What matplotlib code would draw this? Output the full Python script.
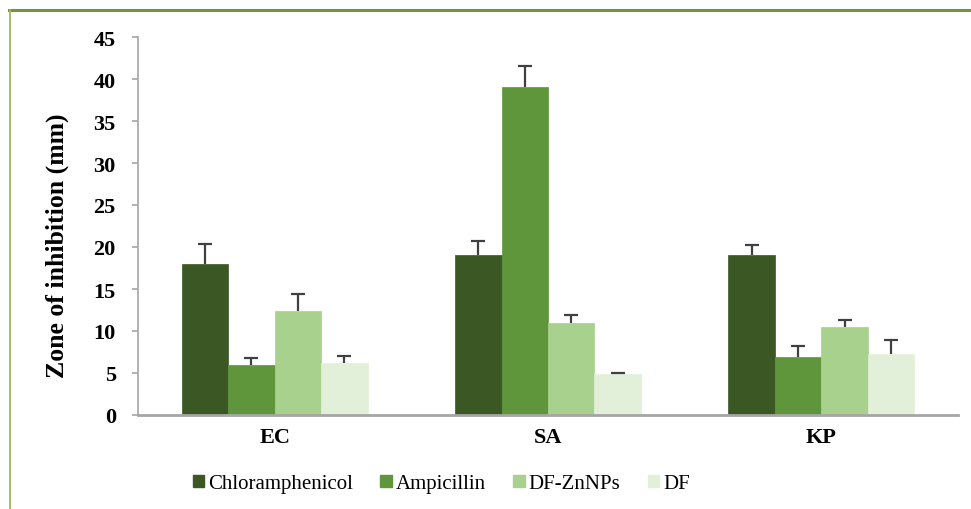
import matplotlib
matplotlib.use("Agg")
import matplotlib.pyplot as plt
import numpy as np
from matplotlib.lines import Line2D
from matplotlib.patches import Patch

plt.rcParams['font.family'] = ['Liberation Serif', 'DejaVu Serif']

categories = ["EC", "SA", "KP"]
series = ["Chloramphenicol", "Ampicillin", "DF-ZnNPs", "DF"]
values = {
    "Chloramphenicol": [18.0, 19.0, 19.0],
    "Ampicillin": [6.0, 39.0, 6.9],
    "DF-ZnNPs": [12.4, 11.0, 10.5],
    "DF": [6.2, 4.9, 7.3],
}
errors = {
    "Chloramphenicol": [2.3, 1.7, 1.2],
    "Ampicillin": [0.75, 2.6, 1.35],
    "DF-ZnNPs": [1.95, 0.95, 0.85],
    "DF": [0.8, 0.15, 1.6],
}
colors = ["#3A5724", "#5F963B", "#A9D18E", "#E2EFD9"]
y_ticks = [0, 5, 10, 15, 20, 25, 30, 35, 40, 45]

W, H = 971, 510
fig = plt.figure(figsize=(W / 100, H / 100), dpi=100)
ax = fig.add_axes([138 / W, (H - 416) / H, 820 / W, (416 - 38) / H])

x = np.arange(len(categories))
bw = 0.17
for i, (name, col) in enumerate(zip(series, colors)):
    pos = x + (i - 1.5) * bw
    vals = values[name]
    errs = errors[name]
    ax.bar(pos, vals, width=bw, color=col, edgecolor=col, linewidth=0.5, zorder=2)
    eb = ax.errorbar(pos, vals, yerr=[np.zeros(len(errs)), errs], fmt='none',
                     ecolor="#404040", elinewidth=1.6, capsize=4.7, capthick=1.6, zorder=3)
    # keep only the upper cap
    eb[1][0].set_visible(False)

ax.set_xlim(-0.5, 2.5)
ax.set_ylim(0, 45)
ax.set_yticks(y_ticks)
ax.set_yticklabels([str(t) for t in y_ticks], fontsize=16, fontweight='bold')
ax.set_xticks(x)
ax.set_xticklabels(categories, fontsize=16, fontweight='bold')
ax.tick_params(axis='x', length=0, pad=9)
ax.tick_params(axis='y', length=4, width=1.2, color="#A6A6A6", pad=12)
for s in ["top", "right"]:
    ax.spines[s].set_visible(False)
ax.spines["left"].set_color("#A6A6A6")
ax.spines["left"].set_linewidth(1.2)
ax.spines["bottom"].set_color("#A6A6A6")
ax.spines["bottom"].set_linewidth(2)
ax.set_ylabel("Zone of inhibition (mm)", fontsize=18.5, fontweight='bold')
ax.yaxis.set_label_coords(-0.084, 0.45)

handles = [Patch(facecolor=c, edgecolor=c) for c in colors]
fig.legend(handles, series, loc='center left', bbox_to_anchor=(174 / W, 1 - 485 / H),
           ncol=4, frameon=False, fontsize=15.0, handlelength=0.55, handleheight=0.55,
           handletextpad=0.2, columnspacing=1.3)

# outer frame lines
fig.add_artist(Line2D([9 / W, 1], [1 - 11 / H, 1 - 11 / H], color="#77933C", lw=2.2,
                      transform=fig.transFigure))
fig.add_artist(Line2D([9.5 / W, 9.5 / W], [0, 1 - 11 / H], color="#9BBB59", lw=1.3,
                      transform=fig.transFigure))

fig.savefig("out.png", dpi=100)
